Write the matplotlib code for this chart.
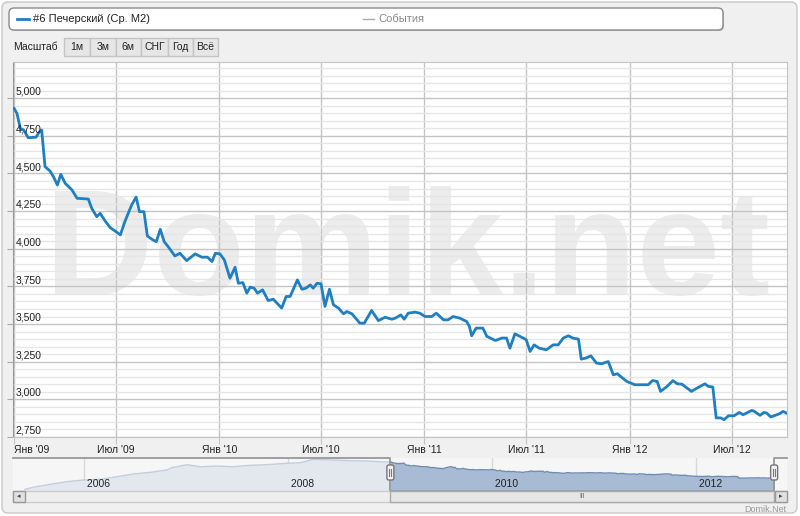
import numpy as np
import pandas as pd
import matplotlib
matplotlib.use('Agg')
import matplotlib.pyplot as plt
import matplotlib.dates as mdates
from matplotlib.patches import FancyBboxPatch, Rectangle
from matplotlib.ticker import MultipleLocator

plt.rcParams['font.family'] = ['Liberation Sans', 'DejaVu Sans']

# --- data ---
series_name = '#6 Печерский (Ср. M2)'
events_name = 'События'

dates = ['2009-01-01', '2009-01-06', '2009-01-12', '2009-01-18', '2009-01-26', '2009-02-09',
         '2009-02-15', '2009-02-19', '2009-02-25', '2009-03-06', '2009-03-12', '2009-03-19',
         '2009-03-25', '2009-04-02', '2009-04-14', '2009-04-23', '2009-05-13', '2009-05-19',
         '2009-05-28', '2009-06-03', '2009-06-12', '2009-06-21', '2009-07-01', '2009-07-09',
         '2009-07-17', '2009-07-29', '2009-08-06', '2009-08-12', '2009-08-20', '2009-08-26',
         '2009-09-03', '2009-09-11', '2009-09-18', '2009-09-25', '2009-10-02', '2009-10-14',
         '2009-10-23', '2009-11-04', '2009-11-19', '2009-12-01', '2009-12-11', '2009-12-19',
         '2009-12-25', '2010-01-02', '2010-01-10', '2010-01-20', '2010-01-29', '2010-02-04',
         '2010-02-12', '2010-02-19', '2010-02-25', '2010-03-04', '2010-03-10', '2010-03-19',
         '2010-03-29', '2010-04-07', '2010-04-22', '2010-04-30', '2010-05-07', '2010-05-20',
         '2010-05-28', '2010-06-04', '2010-06-12', '2010-06-17', '2010-06-24', '2010-07-01',
         '2010-07-08', '2010-07-16', '2010-07-23', '2010-08-01', '2010-08-10', '2010-08-16',
         '2010-08-25', '2010-09-08', '2010-09-16', '2010-09-29', '2010-10-11', '2010-10-23',
         '2010-11-04', '2010-11-10', '2010-11-20', '2010-11-26', '2010-12-03', '2010-12-15',
         '2010-12-24', '2011-01-02', '2011-01-14', '2011-01-22', '2011-02-04', '2011-02-12',
         '2011-02-21', '2011-03-05', '2011-03-17', '2011-03-22', '2011-03-26', '2011-04-03',
         '2011-04-15', '2011-04-22', '2011-05-07', '2011-05-19', '2011-05-27', '2011-06-02',
         '2011-06-11', '2011-06-20', '2011-07-01', '2011-07-08', '2011-07-15', '2011-07-24',
         '2011-08-06', '2011-08-18', '2011-08-27', '2011-09-05', '2011-09-14', '2011-09-22',
         '2011-10-02', '2011-10-07', '2011-10-15', '2011-10-24', '2011-11-03', '2011-11-12',
         '2011-11-24', '2011-12-03', '2011-12-10', '2011-12-27', '2012-01-10', '2012-02-03',
         '2012-02-11', '2012-02-19', '2012-02-25', '2012-03-07', '2012-03-18', '2012-03-26',
         '2012-04-03', '2012-04-20', '2012-04-30', '2012-05-14', '2012-05-20', '2012-05-28',
         '2012-06-03', '2012-06-11', '2012-06-17', '2012-06-25', '2012-07-05', '2012-07-14',
         '2012-07-21', '2012-08-05', '2012-08-09', '2012-08-20', '2012-08-27', '2012-09-01',
         '2012-09-08', '2012-09-19', '2012-09-24', '2012-09-30', '2012-10-06']
prices = [4932, 4899, 4799, 4788, 4737, 4741, 4777, 4788, 4545, 4516, 4478, 4423,
          4494, 4434, 4390, 4335, 4330, 4269, 4213, 4235, 4184, 4140, 4114, 4092,
          4180, 4290, 4343, 4246, 4246, 4085, 4063, 4047, 4129, 4047, 4014, 3952,
          3970, 3921, 3966, 3944, 3944, 3915, 3970, 3966, 3926, 3804, 3877, 3771,
          3775, 3705, 3745, 3738, 3705, 3727, 3656, 3665, 3606, 3683, 3683, 3793,
          3731, 3738, 3760, 3738, 3771, 3767, 3617, 3731, 3628, 3606, 3568, 3583,
          3568, 3506, 3506, 3590, 3523, 3545, 3532, 3539, 3561, 3532, 3572, 3579,
          3572, 3550, 3550, 3572, 3528, 3528, 3550, 3539, 3517, 3484, 3422, 3473,
          3473, 3418, 3391, 3407, 3407, 3340, 3435, 3418, 3396, 3318, 3362, 3340,
          3329, 3362, 3362, 3407, 3422, 3407, 3400, 3267, 3274, 3289, 3241, 3236,
          3251, 3163, 3170, 3119, 3097, 3097, 3125, 3119, 3053, 3084, 3124, 3103,
          3101, 3053, 3075, 3103, 3086, 3082, 2877, 2877, 2865, 2891, 2891, 2913,
          2898, 2926, 2922, 2894, 2913, 2909, 2883, 2898, 2905, 2920, 2909]

# history shown only in the navigator
nav_dates = ['2005-06-03', '2005-07-01', '2005-09-01', '2005-10-30', '2005-12-28', '2006-03-01',
             '2006-04-28', '2006-06-25', '2006-08-26', '2006-10-23', '2006-11-14', '2006-11-28',
             '2007-01-04', '2007-02-21', '2007-04-20', '2007-06-17', '2007-08-18', '2007-10-15',
             '2007-12-27', '2008-02-13', '2008-04-01', '2008-06-10', '2008-08-11', '2008-10-08',
             '2008-12-20']
nav_prices = [1463, 1717, 2098, 2428, 2644, 2733, 3063, 3406, 3622, 3914, 4257, 4333,
              4587, 4333, 4422, 4333, 4511, 4587, 4765, 4841, 5273, 5184, 5095, 5057, 4930]

month_ticks = ['2009-01-01', '2009-07-01', '2010-01-01', '2010-07-01',
               '2011-01-01', '2011-07-01', '2012-01-01', '2012-07-01']
month_labels = ["Янв '09", "Июл '09", "Янв '10", "Июл '10",
                "Янв '11", "Июл '11", "Янв '12", "Июл '12"]
year_ticks = ['2006-01-01', '2008-01-01', '2010-01-01', '2012-01-01']
year_labels = ['2006', '2008', '2010', '2012']
y_ticks = list(range(2750, 5001, 250))
buttons = ['1м', '3м', '6м', 'СНГ', 'Год', 'Всё']

W, H = 800, 516
fig = plt.figure(figsize=(W / 100, H / 100), dpi=100)
fig.patch.set_facecolor('white')

# background chrome in pixel coords
bg = fig.add_axes([0, 0, 1, 1], zorder=0)
bg.set_xlim(0, W)
bg.set_ylim(H, 0)
bg.axis('off')
bg.add_patch(FancyBboxPatch((2, 2), 795, 511, boxstyle='round,pad=0,rounding_size=6',
                            fc='#f0f0f0', ec='#c8c8c8', lw=1))

# legend box
bg.add_patch(FancyBboxPatch((10, 9), 714, 22, boxstyle='round,pad=0,rounding_size=5',
                            fc='#b8b8b8', ec='none'))
bg.add_patch(FancyBboxPatch((9, 8), 714, 22, boxstyle='round,pad=0,rounding_size=5',
                            fc='white', ec='#8c8c8c', lw=1))
bg.plot([17, 29], [19, 19], color='#1f7fc0', lw=2)
bg.text(33, 19, series_name, fontsize=8, color='#222', va='center')
bg.plot([363, 374], [19, 19], color='#aaaaaa', lw=1)
bg.text(378, 19, events_name, fontsize=8, color='#888', va='center')

# range selector
bg.text(13, 47, 'Масштаб', fontsize=7.5, color='#222', va='center')
bx = [64, 90, 116, 141, 168, 193, 218]
for i, b in enumerate(buttons):
    bg.add_patch(Rectangle((bx[i], 38), bx[i + 1] - bx[i], 18, fc='#e6e6e6', ec='#c4c4c4', lw=1))
    bg.text((bx[i] + bx[i + 1]) / 2, 47, b, fontsize=7.5, color='#222', ha='center', va='center')

bg.text(786, 509, 'Domik.Net', fontsize=6.5, color='#999', ha='right', va='center')

# --- main chart ---
d = pd.to_datetime(dates)
ax = fig.add_axes([13 / W, 1 - 437 / H, 774 / W, 375 / H], zorder=2)
ax.set_facecolor('white')
ax.set_axisbelow(True)
ax.text(0.51, 0.379, 'Domik.net', transform=ax.transAxes, fontsize=108, fontweight='bold',
        color='#ececec', ha='center', va='baseline', zorder=0.2)
ax.plot(d, prices, color='#1f7fc0', lw=2, solid_joinstyle='round', zorder=3)

ax.set_xlim(pd.Timestamp('2008-12-30'), pd.Timestamp('2012-10-07'))
ax.set_ylim(2750, 5240)
ax.set_yticks(y_ticks)
ax.yaxis.set_minor_locator(MultipleLocator(50))
ax.grid(True, axis='y', which='major', color='#c4c4c4', lw=1)
ax.grid(True, axis='y', which='minor', color='#e6e6e6', lw=1)
ax.set_xticks(pd.to_datetime(month_ticks))
ax.set_xticklabels(month_labels)
ax.grid(True, axis='x', which='major', color='#c4c4c4', lw=1)
ax.tick_params(axis='x', length=5, color='#c4c4c4', labelsize=7.5, labelcolor='#222', pad=1)
ax.tick_params(axis='y', which='major', length=4, color='#aaa', labelleft=False)
ax.tick_params(axis='y', which='minor', length=0)
ax.get_xticklabels()[0].set_ha('left')
for s in ax.spines.values():
    s.set_color('#c4c4c4')
ax.spines['left'].set_color('#999')
for v in y_ticks:
    ax.annotate(f'{v:,}', (0, v), xycoords=ax.get_yaxis_transform(), xytext=(2, 1),
                textcoords='offset points', fontsize=7.5, color='#222', va='bottom')

# --- navigator ---
nd = pd.to_datetime(nav_dates + dates)
nv = np.array(nav_prices + prices)
sel_start = pd.Timestamp(dates[0])
sel_end = pd.Timestamp(dates[-1])
nav_lo, nav_hi = 1250, 5440
nav = fig.add_axes([13 / W, 1 - 491 / H, 774 / W, 33 / H], zorder=2)
nav.set_facecolor('#f6f6f6')
nav_x0, nav_x1 = pd.Timestamp('2005-04-21'), pd.Timestamp('2012-11-21')
nav.set_xlim(nav_x0, nav_x1)
nav.set_ylim(nav_lo, nav_hi)
nav.fill_between(nd, nv, nav_lo, color='#e3e8ef', lw=0)
nav.plot(nd[nd <= sel_start], nv[nd <= sel_start], color='#c3cddb', lw=1)
m = nd >= sel_start
nav.fill_between(nd[m], nv[m], nav_lo, color='#a8bbd4', lw=0)
nav.plot(nd[m], nv[m], color='#6f8cb4', lw=1)
for t, lab in zip(pd.to_datetime(year_ticks), year_labels):
    nav.axvline(t, color='#d8d8d8', lw=1, zorder=0.5)
    nav.text(t, 0.2, ' ' + lab, transform=nav.get_xaxis_transform(), fontsize=7.5,
             color='#222', va='center', ha='left')
nav.set_xticks([])
nav.set_yticks([])
for s in nav.spines.values():
    s.set_visible(False)
nav.plot([nav_x0, sel_start, sel_start, sel_end, sel_end, nav_x1],
         [nav_hi, nav_hi, nav_lo, nav_lo, nav_hi, nav_hi],
         color='#909090', lw=1.2, clip_on=False, zorder=4)

# --- overlay: handles and scrollbar ---
top = fig.add_axes([0, 0, 1, 1], zorder=5)
top.set_xlim(0, W)
top.set_ylim(H, 0)
top.axis('off')
span = (nav_x1 - nav_x0).days
px0 = 13 + 774 * (sel_start - nav_x0).days / span
px1 = 13 + 774 * (sel_end - nav_x0).days / span
for px in (px0, px1):
    top.add_patch(FancyBboxPatch((px - 3.5, 465), 7, 15, boxstyle='round,pad=0,rounding_size=2',
                                 fc='#f2f2f2', ec='#777', lw=1))
    top.plot([px - 1, px - 1], [469, 476], color='#777', lw=0.8)
    top.plot([px + 1, px + 1], [469, 476], color='#777', lw=0.8)

top.add_patch(Rectangle((13, 491), 774, 11, fc='#eeeeee', ec='#cccccc', lw=1))
top.add_patch(Rectangle((px0, 491), px1 - px0, 11, fc='#e6e6e6', ec='#aaaaaa', lw=1))
top.text((px0 + px1) / 2, 496.5, 'III', fontsize=5, color='#666', ha='center', va='center')
top.add_patch(Rectangle((13, 491), 12, 11, fc='#e0e0e0', ec='#999', lw=1))
top.add_patch(Rectangle((775, 491), 12, 11, fc='#e0e0e0', ec='#999', lw=1))
top.text(19, 496.5, '◂', fontsize=5, color='#444', ha='center', va='center')
top.text(781, 496.5, '▸', fontsize=5, color='#444', ha='center', va='center')

fig.savefig('out.png', dpi=100)
